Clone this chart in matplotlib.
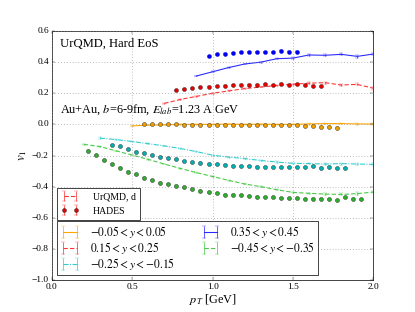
import numpy as np
import matplotlib
matplotlib.use("Agg")
import matplotlib.pyplot as plt

# ---------------- data ----------------
# HADES points
pt_blue_h = [0.975, 1.025, 1.075, 1.125, 1.175, 1.225, 1.275, 1.325, 1.375, 1.425, 1.475, 1.525]
v1_blue_h = [0.437, 0.450, 0.454, 0.459, 0.463, 0.465, 0.465, 0.465, 0.463, 0.473, 0.467, 0.467]

pt_red_h = [0.775, 0.825, 0.875, 0.925, 0.975, 1.025, 1.075, 1.125, 1.175, 1.225, 1.275, 1.325,
            1.375, 1.425, 1.475, 1.525, 1.575, 1.625, 1.675]
v1_red_h = [0.219, 0.225, 0.232, 0.238, 0.243, 0.245, 0.248, 0.251, 0.256, 0.255, 0.256, 0.258,
            0.253, 0.261, 0.256, 0.257, 0.251, 0.248, 0.245]

pt_orange_h = [0.575, 0.625, 0.675, 0.725, 0.775, 0.825, 0.875, 0.925, 0.975, 1.025, 1.075, 1.125,
               1.175, 1.225, 1.275, 1.325, 1.375, 1.425, 1.475, 1.525, 1.575, 1.625, 1.675, 1.725, 1.775]
v1_orange_h = [0.0, 0.0, 0.0, 0.0, 0.0, -0.002, -0.002, -0.002, -0.002, -0.002, -0.002, -0.002,
               -0.005, -0.005, -0.005, -0.005, -0.005, -0.005, -0.005, -0.005, -0.008, -0.010,
               -0.015, -0.015, -0.022]

pt_cyan_h = [0.375, 0.425, 0.475, 0.525, 0.575, 0.625, 0.675, 0.725, 0.775, 0.825, 0.875, 0.925,
             0.975, 1.025, 1.075, 1.125, 1.175, 1.225, 1.275, 1.325, 1.375, 1.425, 1.475, 1.525,
             1.575, 1.625, 1.675, 1.725, 1.775, 1.825]
v1_cyan_h = [-0.133, -0.141, -0.160, -0.176, -0.186, -0.197, -0.210, -0.216, -0.225, -0.235, -0.244,
             -0.246, -0.253, -0.257, -0.259, -0.266, -0.268, -0.268, -0.272, -0.274, -0.276, -0.276,
             -0.274, -0.274, -0.274, -0.268, -0.279, -0.272, -0.282, -0.280]

pt_green_h = [0.225, 0.275, 0.325, 0.375, 0.425, 0.475, 0.525, 0.575, 0.625, 0.675, 0.725, 0.775,
              0.825, 0.875, 0.925, 0.975, 1.025, 1.075, 1.125, 1.175, 1.225, 1.275, 1.325, 1.375,
              1.425, 1.475, 1.525, 1.575, 1.625, 1.675, 1.725, 1.775, 1.825, 1.875, 1.925]
v1_green_h = [-0.169, -0.199, -0.231, -0.254, -0.278, -0.303, -0.322, -0.342, -0.358, -0.375, -0.385,
              -0.394, -0.405, -0.418, -0.426, -0.437, -0.443, -0.452, -0.452, -0.456, -0.460, -0.465,
              -0.467, -0.469, -0.473, -0.475, -0.475, -0.480, -0.478, -0.478, -0.482, -0.488, -0.469,
              -0.478, -0.482]

# UrQMD curves
pt_blue_u = [0.9, 1.0, 1.1, 1.2, 1.3, 1.4, 1.5, 1.6, 1.7, 1.8, 1.9, 2.0]
v1_blue_u = [0.311, 0.338, 0.365, 0.388, 0.400, 0.422, 0.426, 0.446, 0.444, 0.450, 0.437, 0.452]
err_blue_u = [0.003, 0.003, 0.003, 0.003, 0.004, 0.004, 0.004, 0.005, 0.006, 0.007, 0.008, 0.009]

pt_red_u = [0.7, 0.8, 0.9, 1.0, 1.1, 1.2, 1.3, 1.4, 1.5, 1.6, 1.7, 1.8, 1.9, 2.0]
v1_red_u = [0.135, 0.160, 0.180, 0.200, 0.215, 0.230, 0.240, 0.250, 0.258, 0.265, 0.268, 0.253, 0.257, 0.232]
err_red_u = [0.002, 0.002, 0.002, 0.003, 0.003, 0.003, 0.003, 0.004, 0.004, 0.005, 0.006, 0.006, 0.007, 0.008]

pt_orange_u = [0.5, 0.6, 0.7, 0.8, 0.9, 1.0, 1.1, 1.2, 1.3, 1.4, 1.5, 1.6, 1.7, 1.8, 1.9, 2.0]
v1_orange_u = [-0.010, -0.005, -0.003, 0.0, 0.0, 0.0, 0.002, 0.0, 0.002, 0.0, 0.0, 0.003, 0.005, 0.005, 0.003, 0.002]
err_orange_u = [0.002, 0.002, 0.002, 0.002, 0.002, 0.002, 0.002, 0.003, 0.003, 0.003, 0.004, 0.004, 0.005, 0.005, 0.006, 0.007]

pt_cyan_u = [0.3, 0.4, 0.5, 0.6, 0.7, 0.8, 0.9, 1.0, 1.1, 1.2, 1.3, 1.4, 1.5, 1.6, 1.7, 1.8, 1.9, 2.0]
v1_cyan_u = [-0.088, -0.098, -0.110, -0.124, -0.138, -0.155, -0.175, -0.198, -0.210, -0.220, -0.232,
             -0.242, -0.250, -0.252, -0.255, -0.252, -0.255, -0.257]
err_cyan_u = [0.004, 0.002, 0.002, 0.002, 0.002, 0.002, 0.002, 0.002, 0.003, 0.003, 0.003,
              0.004, 0.004, 0.005, 0.005, 0.006, 0.007, 0.008]

pt_green_u = [0.2, 0.3, 0.4, 0.5, 0.6, 0.7, 0.8, 0.9, 1.0, 1.1, 1.2, 1.3, 1.4, 1.5, 1.6, 1.7, 1.8, 1.9, 2.0]
v1_green_u = [-0.128, -0.143, -0.170, -0.197, -0.225, -0.255, -0.283, -0.310, -0.335, -0.360, -0.383,
              -0.400, -0.420, -0.437, -0.443, -0.448, -0.450, -0.445, -0.435]
err_green_u = [0.003, 0.002, 0.002, 0.002, 0.002, 0.002, 0.002, 0.002, 0.003, 0.003, 0.003,
               0.003, 0.004, 0.004, 0.005, 0.006, 0.007, 0.008, 0.009]

labels = [r"$-0.05 < y < 0.05$", r"$0.15 < y < 0.25$", r"$-0.25 < y < -0.15$",
          r"$0.35 < y < 0.45$", r"$-0.45 < y < -0.35$"]

# ---------------- style ----------------
plt.style.use("classic")
plt.rcParams["font.family"] = ["Liberation Serif", "DejaVu Serif"]
plt.rcParams["mathtext.fontset"] = "stix"
plt.rcParams["axes.unicode_minus"] = True

fig = plt.figure(figsize=(415 / 52, 312 / 52), dpi=52, facecolor="white")
ax = fig.add_axes([0.1246, 0.1026, 0.775, 0.798])

line_cols = {"orange": "#ffa500", "red": "#ff3333", "cyan": "#33cccc", "blue": "#2a2aff", "green": "#44cc44"}
pt_cols = {"orange": "#f0a000", "red": "#e80000", "cyan": "#00b2b2", "blue": "#0000ee", "green": "#2eb02e"}
styles = {"orange": "-", "red": "--", "cyan": "-.", "blue": "-", "green": "--"}

urqmd = {
    "orange": (pt_orange_u, v1_orange_u, err_orange_u),
    "red": (pt_red_u, v1_red_u, err_red_u),
    "cyan": (pt_cyan_u, v1_cyan_u, err_cyan_u),
    "blue": (pt_blue_u, v1_blue_u, err_blue_u),
    "green": (pt_green_u, v1_green_u, err_green_u),
}
hades = {
    "orange": (pt_orange_h, v1_orange_h),
    "red": (pt_red_h, v1_red_h),
    "cyan": (pt_cyan_h, v1_cyan_h),
    "blue": (pt_blue_h, v1_blue_h),
    "green": (pt_green_h, v1_green_h),
}

handles = []
order = ["orange", "red", "cyan", "blue", "green"]
for k in order:
    x, y, e = urqmd[k]
    h = ax.errorbar(x, y, yerr=e, color=line_cols[k], ls=styles[k], lw=1.5,
                    capsize=2.5, elinewidth=1.0)
    if styles[k] == "--":
        h.lines[0].set_dashes((6, 3))
    if styles[k] == "-.":
        h.lines[0].set_dashes((7, 2, 1.5, 2))
    handles.append(h)

hades_handles = {}
for k in order:
    x, y = hades[k]
    hh = ax.errorbar(x, y, yerr=[0.002] * len(x), fmt="o", ms=5.5, mfc=pt_cols[k],
                     mec="#202020" if k != "blue" else pt_cols[k], mew=0.6,
                     ecolor=line_cols[k], capsize=2.5, elinewidth=1.0, zorder=5)
    hades_handles[k] = hh

ax.set_xlim(0.0, 2.0)
ax.set_ylim(-1.0, 0.6)
ax.set_xticks([0.0, 0.5, 1.0, 1.5, 2.0])
ax.set_yticks([-1.0, -0.8, -0.6, -0.4, -0.2, 0.0, 0.2, 0.4, 0.6])
ax.tick_params(labelsize=13)
ax.grid(True, color="#888888", ls=":", lw=1.0)
ax.set_xlabel(r"$p_T$ [GeV]", fontsize=17, labelpad=1)
ax.set_ylabel(r"$v_1$", fontsize=18, labelpad=4)

ax.text(0.026, 0.975, "UrQMD, Hard EoS", transform=ax.transAxes, fontsize=17.5, va="top", ha="left")
ax.text(0.026, 0.683, r"Au+Au, $b$=6-9fm, $E_{lab}$=1.23 A GeV", transform=ax.transAxes,
        fontsize=17, va="center", ha="left")

leg1 = ax.legend([handles[1], hades_handles["red"]], ["UrQMD, d", "HADES"],
                 loc="upper left", bbox_to_anchor=(0.0165, 0.37), borderaxespad=0.0,
                 fontsize=13.5, numpoints=2, frameon=True, fancybox=False,
                 handlelength=1.8, borderpad=0.45, labelspacing=0.55, handletextpad=1.4)
leg1.get_frame().set_edgecolor("black")
leg1.get_frame().set_linewidth(1.0)
ax.add_artist(leg1)

leg2 = ax.legend(handles, labels, loc="lower left", bbox_to_anchor=(0.0165, 0.02), borderaxespad=0.0,
                 fontsize=16, numpoints=2, ncol=2, frameon=True, fancybox=False,
                 handlelength=1.8, borderpad=0.25, labelspacing=0.0, columnspacing=2.2,
                 handletextpad=0.8)
leg2.get_frame().set_edgecolor("black")
leg2.get_frame().set_linewidth(1.0)

fig.savefig("out.png", dpi=52, facecolor="white")
